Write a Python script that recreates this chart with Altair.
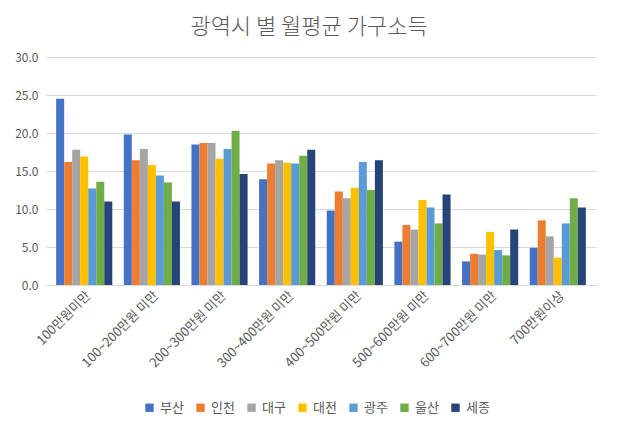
import altair as alt
import pandas as pd

categories = ["100만원미만", "100~200만원 미만", "200~300만원 미만", "300~400만원 미만",
              "400~500만원 미만", "500~600만원 미만", "600~700만원 미만", "700만원이상"]
cities = ["부산", "인천", "대구", "대전", "광주", "울산", "세종"]
colors = ["#4472C4", "#ED7D31", "#A5A5A5", "#FFC000", "#5B9BD5", "#70AD47", "#264478"]

busan = [24.5, 19.8, 18.5, 13.9, 9.8, 5.7, 3.1, 4.9]
incheon = [16.2, 16.4, 18.7, 16.0, 12.3, 7.9, 4.1, 8.5]
daegu = [17.8, 17.9, 18.7, 16.4, 11.4, 7.3, 4.0, 6.4]
daejeon = [16.9, 15.8, 16.6, 16.1, 12.8, 11.2, 7.0, 3.6]
gwangju = [12.7, 14.4, 17.9, 16.0, 16.2, 10.2, 4.6, 8.1]
ulsan = [13.6, 13.5, 20.3, 17.0, 12.5, 8.1, 3.9, 11.4]
sejong = [11.0, 11.0, 14.6, 17.8, 16.4, 11.9, 7.3, 10.2]

series = [busan, incheon, daegu, daejeon, gwangju, ulsan, sejong]
rows = []
for city, vals in zip(cities, series):
    for cat, v in zip(categories, vals):
        rows.append({"category": cat, "city": city, "value": v})
df = pd.DataFrame(rows)

font = "Noto Sans CJK KR"

chart = alt.Chart(df).mark_bar().encode(
    x=alt.X("category:N", sort=categories, title=None,
            scale=alt.Scale(paddingInner=0.17, paddingOuter=0.15),
            axis=alt.Axis(labelAngle=-45, labelFontSize=13, labelColor="#595959",
                          labelFont=font, ticks=False, domainColor="#D9D9D9",
                          labelPadding=4)),
    xOffset=alt.XOffset("city:N", sort=cities),
    y=alt.Y("value:Q", title=None,
            scale=alt.Scale(domain=[0, 30]),
            axis=alt.Axis(values=[0, 5, 10, 15, 20, 25, 30], format=".1f",
                          labelFontSize=12, labelColor="#595959", labelFont=font,
                          ticks=False, domain=False, gridColor="#D9D9D9",
                          labelPadding=8)),
    color=alt.Color("city:N", sort=cities,
                    scale=alt.Scale(domain=cities, range=colors),
                    legend=alt.Legend(title=None, orient="none", direction="horizontal",
                                      legendX=97, legendY=344,
                                      symbolType="square", symbolSize=70,
                                      labelFontSize=13, labelColor="#595959",
                                      labelFont=font, columnPadding=10,
                                      symbolStrokeWidth=0)),
).properties(
    width=550, height=228,
    title=alt.Title("광역시 별 월평균 가구소득", fontSize=22, font=font,
                    color="#595959", fontWeight=300, offset=12, dx=-12),
    padding={"left": 6, "top": 8, "right": 10, "bottom": 5},
).configure_view(stroke=None)

chart.save("out.html", embed_options={"renderer": "svg", "actions": False})
